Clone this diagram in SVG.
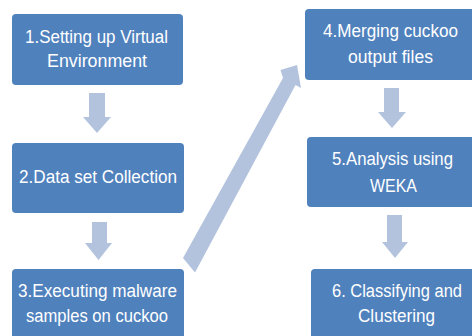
<svg xmlns="http://www.w3.org/2000/svg" width="472" height="336" viewBox="0 0 472 336">
<style>
.box{fill:#4F81BD;}
.arr{fill:#B3C3DE;}
text{font-family:"Liberation Sans","Open Sans",sans-serif;font-size:18px;fill:#FFFFFF;text-anchor:middle;}
</style>
<rect width="472" height="336" fill="#FFFFFF"/>
<g id="connectors">
<polygon class="arr" points="89,93 105,93 105,117 111,117 97,133 83,117 89,117"/>
<polygon class="arr" points="92,222 107,222 107,243 112,243 98.5,260 85,243 92,243"/>
<polygon class="arr" points="384,88 399,88 399,112 406,112 392,128 378,112 384,112"/>
<polygon class="arr" points="387,215 402,215 402,242 408,242 395,258 382,242 387,242"/>
<polygon class="arr" points="183,258 283,78 280.5,70 297,65 301,88 295.5,85 195,272.5"/>
</g>
<g id="node1">
<rect class="box" x="12" y="14" width="171" height="71" rx="4"/>
<text x="96.5" y="43" textLength="143" lengthAdjust="spacingAndGlyphs">1.Setting up Virtual</text>
<text x="97" y="67" textLength="100" lengthAdjust="spacingAndGlyphs">Environment</text>
</g>
<g id="node2">
<rect class="box" x="12" y="143" width="172" height="70" rx="4"/>
<text x="98" y="183" textLength="158" lengthAdjust="spacingAndGlyphs">2.Data set Collection</text>
</g>
<g id="node3">
<rect class="box" x="12" y="269" width="172" height="75" rx="4"/>
<text x="97.5" y="297" textLength="159" lengthAdjust="spacingAndGlyphs">3.Executing malware</text>
<text x="97" y="322" textLength="142" lengthAdjust="spacingAndGlyphs">samples on cuckoo</text>
</g>
<g id="node4">
<rect class="box" x="305" y="9" width="172" height="71" rx="4"/>
<text x="390.5" y="37" textLength="135" lengthAdjust="spacingAndGlyphs">4.Merging cuckoo</text>
<text x="390.5" y="63" textLength="85" lengthAdjust="spacingAndGlyphs">output files</text>
</g>
<g id="node5">
<rect class="box" x="307" y="137" width="172" height="70" rx="4"/>
<text x="392.5" y="165" textLength="121" lengthAdjust="spacingAndGlyphs">5.Analysis using</text>
<text x="393.5" y="192" textLength="47" lengthAdjust="spacingAndGlyphs">WEKA</text>
</g>
<g id="node6">
<rect class="box" x="311" y="269" width="172" height="75" rx="4"/>
<text x="397" y="297" textLength="130" lengthAdjust="spacingAndGlyphs">6. Classifying and</text>
<text x="396.5" y="322" textLength="77" lengthAdjust="spacingAndGlyphs">Clustering</text>
</g>
</svg>
